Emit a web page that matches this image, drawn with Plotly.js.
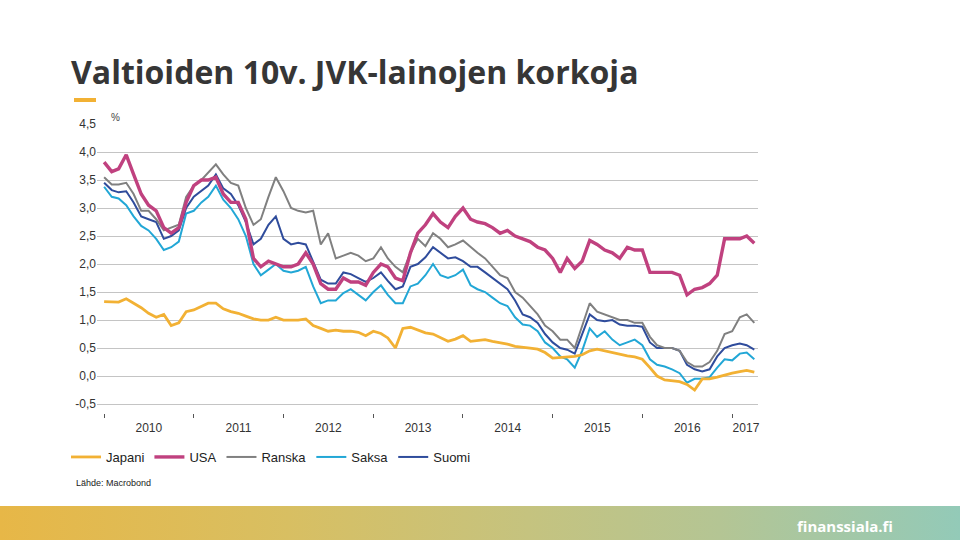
<!DOCTYPE html>
<html>
<head>
<meta charset="utf-8">
<script src="https://cdn.plot.ly/plotly-3.0.1.min.js"></script>
<style>
   html, body { margin: 0; padding: 0; background: #ffffff; }
   #wrap { position: relative; width: 960px; height: 540px; overflow: hidden; }
   #band { position: absolute; left: 0; top: 506px; width: 960px; height: 34px;
      background: linear-gradient(to right, #e7b747 0%, #d8bf62 30%, #c5c37f 55%, #b4c594 75%, #93cab8 100%); }
   #plot { position: absolute; left: 0; top: 0; width: 960px; height: 540px; }
</style>
</head>
<body>
<div id="wrap">
   <div id="band"></div>
   <div id="plot"></div>
</div>
<script>
// monthly readings, Jan 2010 .. Apr 2017
var months = [
   '2010-01','2010-02','2010-03','2010-04','2010-05','2010-06','2010-07','2010-08','2010-09','2010-10','2010-11','2010-12',
   '2011-01','2011-02','2011-03','2011-04','2011-05','2011-06','2011-07','2011-08','2011-09','2011-10','2011-11','2011-12',
   '2012-01','2012-02','2012-03','2012-04','2012-05','2012-06','2012-07','2012-08','2012-09','2012-10','2012-11','2012-12',
   '2013-01','2013-02','2013-03','2013-04','2013-05','2013-06','2013-07','2013-08','2013-09','2013-10','2013-11','2013-12',
   '2014-01','2014-02','2014-03','2014-04','2014-05','2014-06','2014-07','2014-08','2014-09','2014-10','2014-11','2014-12',
   '2015-01','2015-02','2015-03','2015-04','2015-05','2015-06','2015-07','2015-08','2015-09','2015-10','2015-11','2015-12',
   '2016-01','2016-02','2016-03','2016-04','2016-05','2016-06','2016-07','2016-08','2016-09','2016-10','2016-11','2016-12',
   '2017-01','2017-02','2017-03','2017-04'
]

var japani = [
   1.33, 1.33, 1.32, 1.38, 1.30, 1.22, 1.12, 1.05, 1.10, 0.90, 0.95, 1.15,
   1.18, 1.25, 1.30, 1.30, 1.20, 1.15, 1.12, 1.07, 1.02, 1.00, 1.00, 1.05,
   1.00, 1.00, 1.00, 1.02, 0.90, 0.85, 0.80, 0.82, 0.80, 0.80, 0.78, 0.72,
   0.80, 0.76, 0.68, 0.50, 0.85, 0.87, 0.82, 0.77, 0.75, 0.68, 0.62, 0.66,
   0.72, 0.62, 0.63, 0.65, 0.62, 0.60, 0.57, 0.53, 0.52, 0.50, 0.48, 0.42,
   0.32, 0.33, 0.35, 0.35, 0.38, 0.45, 0.48, 0.45, 0.42, 0.38, 0.36, 0.34,
   0.30, 0.15, 0.00, -0.07, -0.08, -0.10, -0.15, -0.25, -0.05, -0.05, -0.02, 0.02,
   0.05, 0.08, 0.10, 0.07
]
var usa = [
   3.82, 3.65, 3.70, 3.95, 3.60, 3.25, 3.05, 2.95, 2.65, 2.55, 2.65, 3.10,
   3.40, 3.50, 3.50, 3.55, 3.25, 3.10, 3.10, 2.80, 2.10, 1.95, 2.05, 2.00,
   1.95, 1.95, 2.00, 2.20, 2.00, 1.65, 1.55, 1.55, 1.75, 1.68, 1.68, 1.62,
   1.85, 2.00, 1.95, 1.75, 1.70, 2.20, 2.55, 2.70, 2.90, 2.75, 2.65, 2.85,
   3.00, 2.80, 2.75, 2.72, 2.65, 2.55, 2.60, 2.50, 2.45, 2.40, 2.30, 2.25,
   2.10, 1.85, 2.10, 1.92, 2.05, 2.42, 2.35, 2.25, 2.20, 2.10, 2.30, 2.25,
   2.25, 1.85, 1.85, 1.85, 1.85, 1.80, 1.45, 1.55, 1.58, 1.65, 1.80, 2.45,
   2.45, 2.45, 2.50, 2.37
]
var ranska = [
   3.55, 3.42, 3.42, 3.45, 3.25, 2.95, 2.95, 2.80, 2.60, 2.65, 2.70, 3.20,
   3.40, 3.50, 3.63, 3.78, 3.60, 3.45, 3.40, 3.00, 2.70, 2.80, 3.20, 3.55,
   3.30, 3.00, 2.95, 2.92, 2.95, 2.35, 2.55, 2.10, 2.15, 2.20, 2.15, 2.05,
   2.10, 2.30, 2.10, 1.95, 1.85, 2.20, 2.45, 2.32, 2.55, 2.45, 2.30, 2.35,
   2.42, 2.30, 2.20, 2.10, 1.95, 1.80, 1.75, 1.50, 1.40, 1.25, 1.10, 0.90,
   0.80, 0.65, 0.65, 0.50, 0.90, 1.30, 1.15, 1.10, 1.05, 1.00, 1.00, 0.95,
   0.95, 0.70, 0.55, 0.50, 0.50, 0.45, 0.25, 0.17, 0.17, 0.25, 0.45, 0.75,
   0.80, 1.05, 1.10, 0.95
]
var saksa = [
   3.38, 3.20, 3.17, 3.05, 2.85, 2.68, 2.60, 2.45, 2.25, 2.30, 2.40, 2.90,
   2.95, 3.10, 3.20, 3.40, 3.15, 3.00, 2.80, 2.50, 2.00, 1.80, 1.90, 2.00,
   1.88, 1.85, 1.88, 1.95, 1.60, 1.30, 1.35, 1.35, 1.48, 1.55, 1.45, 1.35,
   1.50, 1.62, 1.45, 1.30, 1.30, 1.60, 1.65, 1.80, 2.00, 1.80, 1.75, 1.80,
   1.90, 1.62, 1.55, 1.50, 1.40, 1.30, 1.25, 1.05, 0.92, 0.90, 0.80, 0.60,
   0.50, 0.35, 0.30, 0.15, 0.45, 0.85, 0.70, 0.80, 0.65, 0.55, 0.60, 0.65,
   0.55, 0.30, 0.20, 0.17, 0.12, 0.05, -0.12, -0.05, -0.05, -0.02, 0.15, 0.30,
   0.28, 0.40, 0.42, 0.30
]
var suomi = [
   3.45, 3.32, 3.28, 3.30, 3.10, 2.85, 2.80, 2.75, 2.45, 2.50, 2.60, 3.00,
   3.20, 3.30, 3.40, 3.60, 3.35, 3.25, 3.05, 2.75, 2.35, 2.45, 2.70, 2.85,
   2.45, 2.35, 2.38, 2.35, 2.05, 1.72, 1.65, 1.65, 1.85, 1.82, 1.75, 1.68,
   1.75, 1.85, 1.70, 1.55, 1.60, 1.95, 2.00, 2.12, 2.30, 2.20, 2.10, 2.12,
   2.05, 1.95, 1.95, 1.85, 1.75, 1.65, 1.55, 1.35, 1.10, 1.05, 0.95, 0.75,
   0.60, 0.50, 0.47, 0.40, 0.75, 1.10, 1.00, 0.98, 1.00, 0.92, 0.90, 0.90,
   0.88, 0.60, 0.50, 0.50, 0.50, 0.45, 0.20, 0.12, 0.08, 0.12, 0.35, 0.50,
   0.55, 0.58, 0.55, 0.47
]

// axis labels
var yTickVals = [-0.5, 0, 0.5, 1, 1.5, 2, 2.5, 3, 3.5, 4, 4.5]
var yTickText = ['-0,5', '0,0', '0,5', '1,0', '1,5', '2,0', '2,5', '3,0', '3,5', '4,0', '4,5']
var yearLabels = ['2010', '2011', '2012', '2013', '2014', '2015', '2016', '2017']
var yearLabelDates = ['2010-07-02', '2011-07-02', '2012-07-02', '2013-07-02', '2014-07-02', '2015-07-02', '2016-07-02', '2017-02-26']

var plotDiv = document.getElementById('plot')
var tickFont = {family: 'Liberation Sans, Arial, sans-serif', size: 12, color: '#333333'}
var xRange = ['2009-12-03', '2017-04-16']

function make_trace(name, y, color, width, rank) {
   return {
      name: name,
      x: months,
      y: y,
      mode: 'lines',
      type: 'scatter',
      legendrank: rank,
      hoverinfo: 'x+y',
      line: {width: width, color: color}
   }
}

// drawing order: Japan and USA on top, legend order as in the original
var traces = [
   make_trace('Saksa', saksa, '#22a7d6', 2, 4),
   make_trace('Suomi', suomi, '#2f4c9c', 2, 5),
   make_trace('Ranska', ranska, '#808080', 2, 3),
   make_trace('Japani', japani, '#f2b134', 2.8, 1),
   make_trace('USA', usa, '#c0417f', 3.4, 2),
   // empty carrier for the year label axis
   {x: [], y: [], xaxis: 'x2', yaxis: 'y', type: 'scatter', mode: 'lines', showlegend: false, hoverinfo: 'skip'}
]

var layout = {
   width: 960,
   height: 540,
   paper_bgcolor: 'rgba(0,0,0,0)',
   plot_bgcolor: 'rgba(0,0,0,0)',
   margin: {l: 97, r: 202, t: 124, b: 127},
   showlegend: true,
   title: {
      text: 'Valtioiden 10v. JVK-lainojen korkoja',
      font: {family: 'Open Sans, sans-serif', size: 32, color: '#363636', weight: 700},
      xref: 'container',
      yref: 'container',
      x: 71 / 960,
      xanchor: 'left',
      y: 1 - 73 / 540,
      yanchor: 'middle'
   },
   // year ticks at year starts
   xaxis: {
      type: 'date',
      range: xRange,
      tick0: '2010-01-01',
      dtick: 'M12',
      ticks: 'outside',
      ticklen: 4,
      tickwidth: 1,
      tickcolor: '#555555',
      showticklabels: false,
      showgrid: false,
      showline: false,
      zeroline: false
   },
   // year labels in the middle of each year
   xaxis2: {
      type: 'date',
      overlaying: 'x',
      anchor: 'y',
      side: 'bottom',
      range: xRange,
      tickmode: 'array',
      tickvals: yearLabelDates,
      ticktext: yearLabels,
      ticks: 'outside',
      ticklen: 4,
      tickcolor: 'rgba(0,0,0,0)',
      showgrid: false,
      showline: false,
      zeroline: false,
      tickfont: tickFont
   },
   yaxis: {
      range: [-0.66, 4.5],
      tickmode: 'array',
      tickvals: yTickVals,
      ticktext: yTickText,
      showgrid: true,
      gridcolor: '#c4c4c4',
      gridwidth: 1,
      zeroline: false,
      showline: false,
      ticks: '',
      tickfont: tickFont
   },
   legend: {
      orientation: 'h',
      xref: 'container',
      yref: 'container',
      x: 66 / 960,
      xanchor: 'left',
      y: 1 - 457 / 540,
      yanchor: 'middle',
      font: {family: 'Liberation Sans, Arial, sans-serif', size: 13, color: '#222222'},
      itemwidth: 30,
      traceorder: 'normal'
   },
   shapes: [{
      type: 'rect',
      xref: 'paper', yref: 'paper',
      x0: -23 / 661, x1: -1 / 661,
      y0: (413 - 102) / 289, y1: (413 - 98) / 289,
      fillcolor: '#f2b134',
      line: {width: 0}
   }],
   annotations: [{
      text: '%',
      xref: 'paper', yref: 'paper',
      x: 18 / 661, y: (413 - 118) / 289,
      xanchor: 'center', yanchor: 'middle',
      showarrow: false,
      font: {family: 'Liberation Sans, Arial, sans-serif', size: 10, color: '#444444'}
   }, {
      text: 'Lähde: Macrobond',
      xref: 'paper', yref: 'paper',
      x: -23 / 661, y: (413 - 483) / 289,
      xanchor: 'left', yanchor: 'middle',
      showarrow: false,
      font: {family: 'Liberation Sans, Arial, sans-serif', size: 9, color: '#222222'}
   }, {
      text: 'finanssiala.fi',
      xref: 'paper', yref: 'paper',
      x: (845 - 97) / 661, y: (413 - 526) / 289,
      xanchor: 'center', yanchor: 'middle',
      showarrow: false,
      font: {family: 'Open Sans, sans-serif', size: 15, color: '#ffffff', weight: 700}
   }]
}

Plotly.newPlot(plotDiv, traces, layout, {staticPlot: true, displayModeBar: false})
</script>
</body>
</html>
